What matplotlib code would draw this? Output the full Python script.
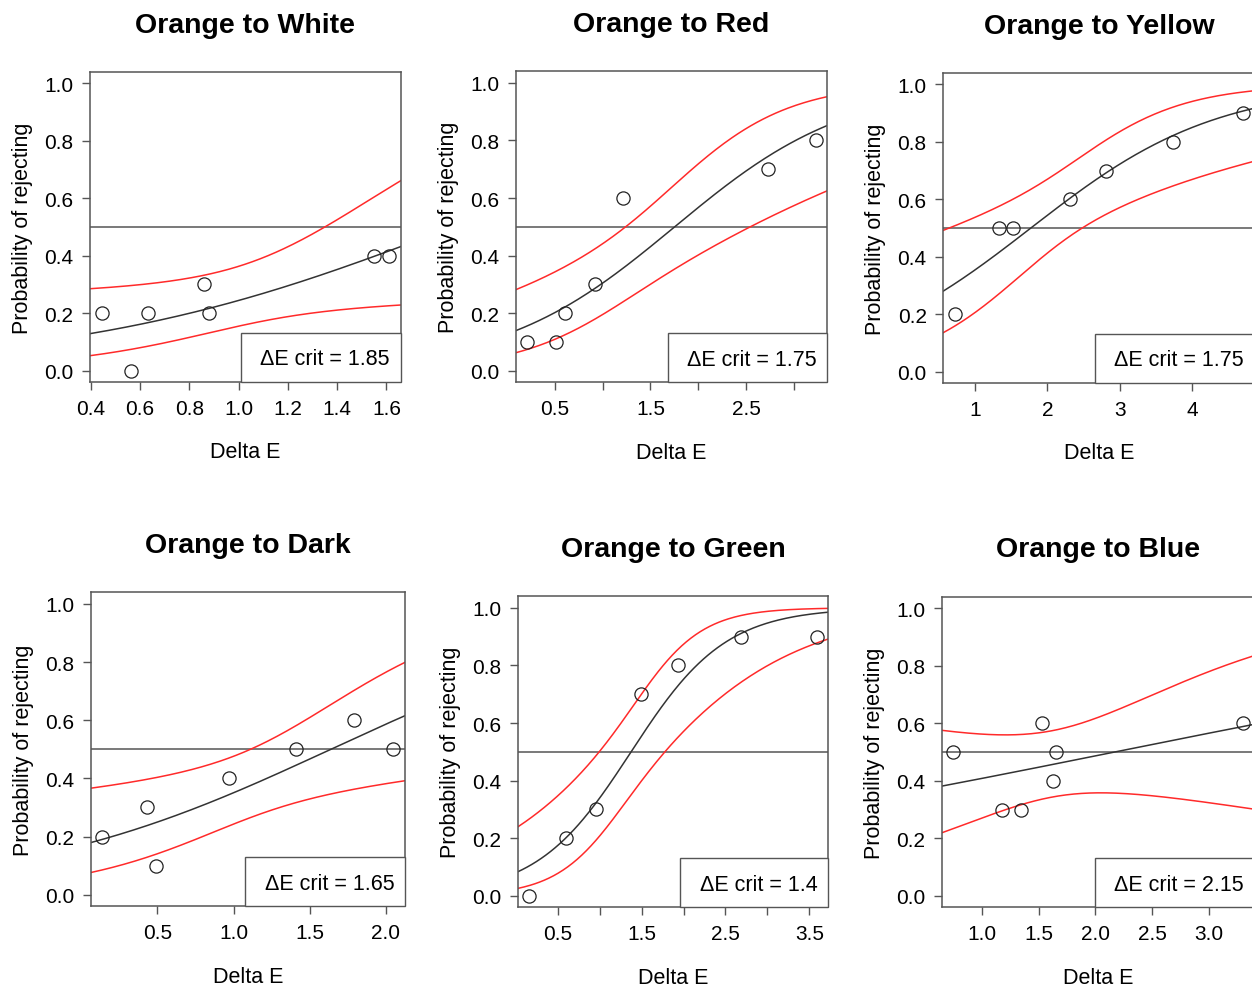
import numpy as np
import matplotlib
matplotlib.use("Agg")
import matplotlib.pyplot as plt
from matplotlib.lines import Line2D

plt.rcParams['font.family'] = ['Liberation Sans', 'DejaVu Sans']

# proportion rejecting at each Delta E, 10 trials per point
titles = ["Orange to White", "Orange to Red", "Orange to Yellow",
          "Orange to Dark", "Orange to Green", "Orange to Blue"]
crit = ["1.85", "1.75", "1.75", "1.65", "1.4", "2.15"]

white_x = [0.443, 0.561, 0.631, 0.861, 0.880, 1.551, 1.611]
white_p = [0.2, 0.0, 0.2, 0.3, 0.2, 0.4, 0.4]
red_x = [0.211, 0.507, 0.604, 0.918, 1.21, 2.73, 3.23]
red_p = [0.1, 0.1, 0.2, 0.3, 0.6, 0.7, 0.8]
yellow_x = [0.725, 1.33, 1.53, 2.32, 2.81, 3.74, 4.70]
yellow_p = [0.2, 0.5, 0.5, 0.6, 0.7, 0.8, 0.9]
dark_x = [0.138, 0.434, 0.493, 0.97, 1.41, 1.79, 2.05]
dark_p = [0.2, 0.3, 0.1, 0.4, 0.5, 0.6, 0.5]
green_x = [0.158, 0.599, 0.956, 1.49, 1.93, 2.69, 3.59]
green_p = [0.0, 0.2, 0.3, 0.7, 0.8, 0.9, 0.9]
blue_x = [0.748, 1.177, 1.348, 1.53, 1.63, 1.65, 3.30]
blue_p = [0.5, 0.3, 0.3, 0.6, 0.4, 0.5, 0.6]
n_trials = 10

xs = [white_x, red_x, yellow_x, dark_x, green_x, blue_x]
ps = [white_p, red_p, yellow_p, dark_p, green_p, blue_p]

xticks = [[0.4, 0.6, 0.8, 1.0, 1.2, 1.4, 1.6],
          [0.5, 1.0, 1.5, 2.0, 2.5, 3.0],
          [1, 2, 3, 4],
          [0.5, 1.0, 1.5, 2.0],
          [0.5, 1.0, 1.5, 2.0, 2.5, 3.0, 3.5],
          [1.0, 1.5, 2.0, 2.5, 3.0]]
xticklabels = [["0.4", "0.6", "0.8", "1.0", "1.2", "1.4", "1.6"],
               ["0.5", "", "1.5", "", "2.5", ""],
               ["1", "2", "3", "4"],
               ["0.5", "1.0", "1.5", "2.0"],
               ["0.5", "", "1.5", "", "2.5", "", "3.5"],
               ["1.0", "1.5", "2.0", "2.5", "3.0"]]

# axes boxes in pixels: left, top, right, bottom
boxes = [(90, 73, 400.7, 383), (515.7, 72.3, 827.3, 383.3), (943.3, 74, 1254.6, 384),
         (90.7, 593.3, 405, 907.3), (517.7, 597.3, 828.3, 908.3), (941.7, 597.7, 1254.6, 908.3)]


def fit_logit(x, p, n):
    X = np.column_stack([np.ones_like(x), x])
    beta = np.zeros(2)
    for _ in range(60):
        eta = X @ beta
        mu = 1 / (1 + np.exp(-eta))
        w = n * mu * (1 - mu)
        z = eta + (p - mu) / (mu * (1 - mu))
        XtW = X.T * w
        beta = np.linalg.solve(XtW @ X, XtW @ z)
    eta = X @ beta
    mu = 1 / (1 + np.exp(-eta))
    w = n * mu * (1 - mu)
    cov = np.linalg.inv((X.T * w) @ X)
    return beta, cov


W, H = 1252, 987
fig = plt.figure(figsize=(W / 100, H / 100), dpi=100)

for i in range(6):
    l, t, r, b = boxes[i]
    ax = fig.add_axes([l / W, 1 - b / H, (r - l) / W, (b - t) / H])
    x = np.array(xs[i])
    p = np.array(ps[i])
    pad = 0.04 * (x.max() - x.min())
    xlo, xhi = x.min() - pad, x.max() + pad

    beta, cov = fit_logit(x, p, n_trials)
    xx = np.linspace(xlo, xhi, 200)
    eta = beta[0] + beta[1] * xx
    se = np.sqrt(cov[0, 0] + 2 * cov[0, 1] * xx + cov[1, 1] * xx ** 2)
    inv = lambda e: 1 / (1 + np.exp(-e))

    ax.axhline(0.5, color='#555555', lw=1.1, zorder=1)
    ax.plot(xx, inv(eta), color='#333333', lw=1.1, zorder=2)
    ax.plot(xx, inv(eta + 1.96 * se), color='#ff2a2a', lw=1.1, zorder=2)
    ax.plot(xx, inv(eta - 1.96 * se), color='#ff2a2a', lw=1.1, zorder=2)
    ax.plot(x, p, 'o', ms=9.5, mfc='none', mec='#222222', mew=0.9, zorder=3)

    ax.set_xlim(xlo, xhi)
    ax.set_ylim(-0.04, 1.04)
    ax.set_yticks([0, 0.2, 0.4, 0.6, 0.8, 1.0])
    ax.set_yticklabels(["0.0", "0.2", "0.4", "0.6", "0.8", "1.0"])
    ax.set_xticks(xticks[i])
    ax.set_xticklabels(xticklabels[i])
    ax.tick_params(labelsize=15, length=6, width=1, color='#555555', pad=6)
    for s in ax.spines.values():
        s.set_color('#555555')
        s.set_linewidth(1.1)

    ax.set_xlabel("Delta E", fontsize=15.5, labelpad=17)
    ax.set_ylabel("Probability of rejecting", fontsize=15.5, labelpad=8)
    ax.set_title(titles[i], fontsize=20.5, fontweight='bold', pad=29)

    h = Line2D([], [], linestyle='none')
    leg = ax.legend([h], ["ΔE crit = " + crit[i]], loc='lower right', fontsize=15.5,
                    frameon=True, fancybox=False, edgecolor='#555555', framealpha=1,
                    borderaxespad=0, handlelength=0.2, handletextpad=0.2, borderpad=0.5,
                    handleheight=1.6)
    leg.get_frame().set_linewidth(1.0)

fig.savefig("out.png", dpi=100)
